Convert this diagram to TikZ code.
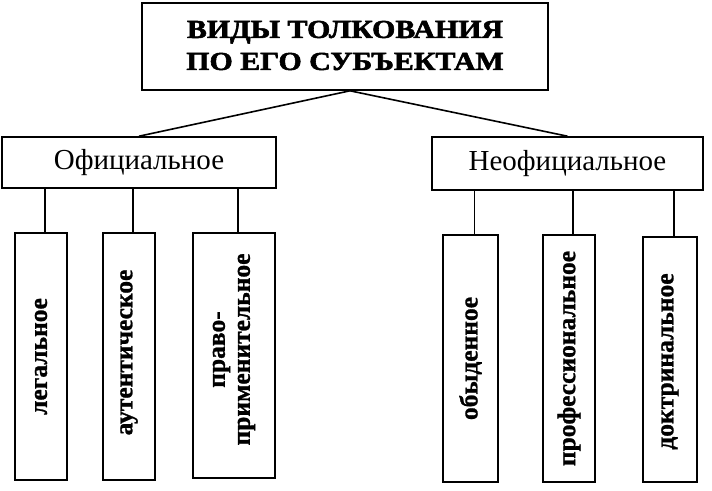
\documentclass[tikz,border=0pt]{standalone}
\usepackage{fontspec}
\setmainfont{Liberation Serif}
\usetikzlibrary{positioning}

\begin{document}
\begin{tikzpicture}[x=1pt, y=-1pt, line width=1.6pt,
    box/.style={draw, rectangle, inner sep=0pt},
    kind/.style={box, minimum width=52pt, minimum height=247pt},
    vtext/.style={rotate=90, align=center,
      font=\bfseries\fontsize{25.5}{25}\selectfont\addfontfeature{FakeBold=1}}]
    \useasboundingbox (0,0) rectangle (712,490);

    % Title
    \node[box, minimum width=406pt, minimum height=87pt] (top) at (345,46.5) {};
    \node[align=center, font=\bfseries\fontsize{26}{32}\selectfont\addfontfeature{FakeBold=2}] (title) at ([yshift=1pt]top.center)
        {\scalebox{1.15}[1]{ВИДЫ ТОЛКОВАНИЯ}\\ \scalebox{1.15}[1]{ПО ЕГО СУБЪЕКТАМ}};

    % Second level
    \node[box, minimum width=274pt, minimum height=51pt, font=\fontsize{29}{29}\selectfont] (official) at (139,162.5) {Официальное};
    \node[box, minimum width=271pt, minimum height=53pt, font=\fontsize{29}{29}\selectfont] (unofficial) at (567.5,163.5) {Неофициальное};
    \draw ([xshift=5pt]top.south) -- (official.north);
    \draw ([xshift=5pt]top.south) -- (unofficial.north);

    % Official kinds
    \node[kind] (legal) at (41,356.5) {};
    \node[kind] (authentic) at (129,356.5) {};
    \node[kind, minimum width=82pt, minimum height=245pt] (applied) at (234,355.5) {};
    \node[vtext] (legal-t) at (legal) {легальное};
    \node[vtext] (authentic-t) at ([yshift=4pt]authentic) {аутентическое};
    \node[vtext] (applied-t) at ([yshift=6pt]applied) {право-\\применительное};

    % Unofficial kinds
    \node[kind, minimum width=55pt] (everyday) at (470.5,358.5) {};
    \node[kind] (profess) at (569,358.5) {};
    \node[kind, minimum width=54pt, minimum height=245pt] (doctrine) at (670,359.5) {};
    \node[vtext] (everyday-t) at (everyday) {обыденное};
    \node[vtext] (profess-t) at (profess) {профессиональное};
    \node[vtext] (doctrine-t) at ([yshift=-2pt]doctrine) {доктринальное};

    % Connectors
    \foreach \k in {legal, authentic, applied}
        \draw ([xshift=4pt]\k.north) -- ([xshift=4pt]\k.north |- official.south);
    \foreach \k in {everyday, profess, doctrine}
        \draw ([xshift=4pt]\k.north) -- ([xshift=4pt]\k.north |- unofficial.south);
\end{tikzpicture}
\end{document}
